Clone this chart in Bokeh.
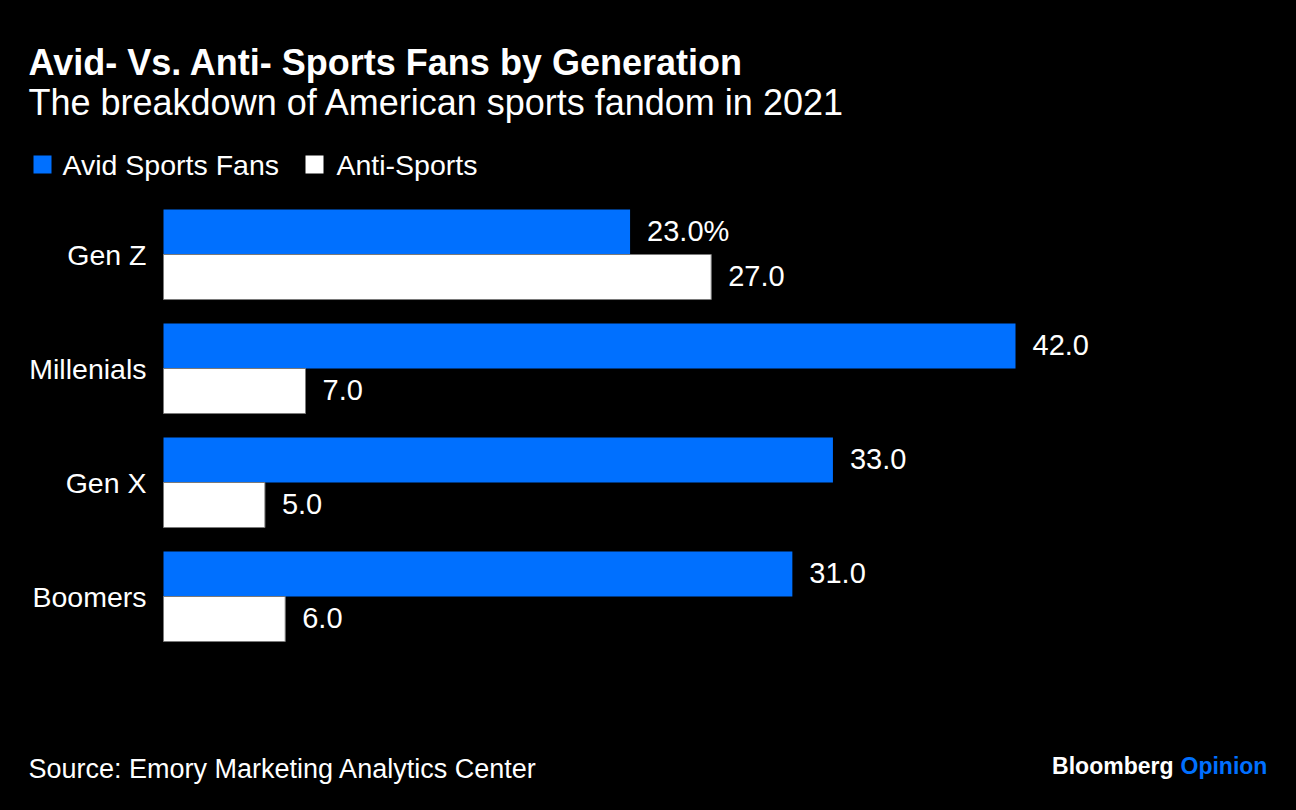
from bokeh.plotting import figure
from bokeh.models import ColumnDataSource, Range1d
from bokeh.core.properties import value
from bokeh.embed import file_html
from bokeh.resources import INLINE

# ---- data ----
generations = ["Gen Z", "Millenials", "Gen X", "Boomers"]
avid = [23.0, 42.0, 33.0, 31.0]
anti = [27.0, 7.0, 5.0, 6.0]
series_names = ["Avid Sports Fans", "Anti-Sports"]
title_text = "Avid- Vs. Anti- Sports Fans by Generation"
subtitle_text = "The breakdown of American sports fandom in 2021"
source_text = "Source: Emory Marketing Analytics Center"

BLUE = "#0070FF"
FONT = "Liberation Sans"
W, H = 1280, 794

# layout: pixel position of x=0, pixels per percent point, pixels per group
X0, SX = 163.0, 852.0 / 42.0
Y_LAST, SY = 596.0, 114.0   # centre of the last group, group pitch


def px(xp):
    return (xp - X0) / SX


def py(yp):
    return (Y_LAST - yp) / SY


n = len(generations)
pos = [n - 1 - i for i in range(n)]          # Gen Z at top
off, h = 0.1975, 0.395

avid_txt = [f"{v:.1f}%" if i == 0 else f"{v:.1f}" for i, v in enumerate(avid)]
anti_txt = [f"{v:.1f}" for v in anti]

src = ColumnDataSource(dict(gen=generations, avid=avid, anti=anti,
                            y_avid=[v + off for v in pos], y_anti=[v - off for v in pos],
                            y_gen=pos, avid_txt=avid_txt, anti_txt=anti_txt))

p = figure(width=W, height=H, output_backend="svg", toolbar_location=None,
           x_range=Range1d(px(0), px(W)), y_range=Range1d(py(H), py(0)),
           x_axis_location=None, y_axis_location=None,
           min_border=0, min_border_left=0, min_border_right=0,
           min_border_top=0, min_border_bottom=0)
p.background_fill_color = "black"
p.border_fill_color = "black"
p.outline_line_color = None
p.grid.visible = False

p.hbar(y="y_avid", left=0, right="avid", height=h, source=src,
       fill_color=BLUE, line_color=None)
p.hbar(y="y_anti", left=0, right="anti", height=h, source=src,
       fill_color="white", line_color="#7a7a7a", line_width=1)

common = dict(text_color="white", text_font=value(FONT), text_baseline="middle")

# value labels
p.text(x="avid", y="y_avid", text="avid_txt", source=src, x_offset=17, y_offset=-1,
       text_align="left", text_font_size="29px", **common)
p.text(x="anti", y="y_anti", text="anti_txt", source=src, x_offset=17, y_offset=-1,
       text_align="left", text_font_size="29px", **common)

# category labels
p.text(x=px(146), y="y_gen", text="gen", source=src,
       text_align="right", text_font_size="28.5px", **common)

# title, subtitle, source
p.text(x=[px(28)], y=[py(62)], text=[title_text],
       text_font_size="36px", text_font_style="bold", **common)
p.text(x=[px(28)], y=[py(102)], text=[subtitle_text],
       text_font_size="36px", **common)
p.text(x=[px(28)], y=[py(768)], text=[source_text],
       text_font_size="27px", **common)

# logo
p.text(x=[px(1173)], y=[py(765)], text=["Bloomberg"],
       text_align="right", text_font_size="23px", text_font_style="bold", **common)
p.text(x=[px(1180)], y=[py(765)], text=["Opinion"], text_baseline="middle",
       text_align="left", text_font_size="23px", text_font_style="bold",
       text_color=BLUE, text_font=value(FONT))

# legend
p.quad(left=[px(33)], right=[px(51)], top=[py(155)], bottom=[py(173)],
       fill_color=BLUE, line_color=None)
p.quad(left=[px(305)], right=[px(323)], top=[py(155)], bottom=[py(173)],
       fill_color="white", line_color=None)
p.text(x=[px(62), px(336)], y=[py(164), py(164)], text=series_names,
       text_font_size="28.5px", **common)

html = file_html(p, INLINE).replace("</head>", "<style>html,body{background:#000000;}</style></head>", 1)
open("out.html", "w").write(html)
